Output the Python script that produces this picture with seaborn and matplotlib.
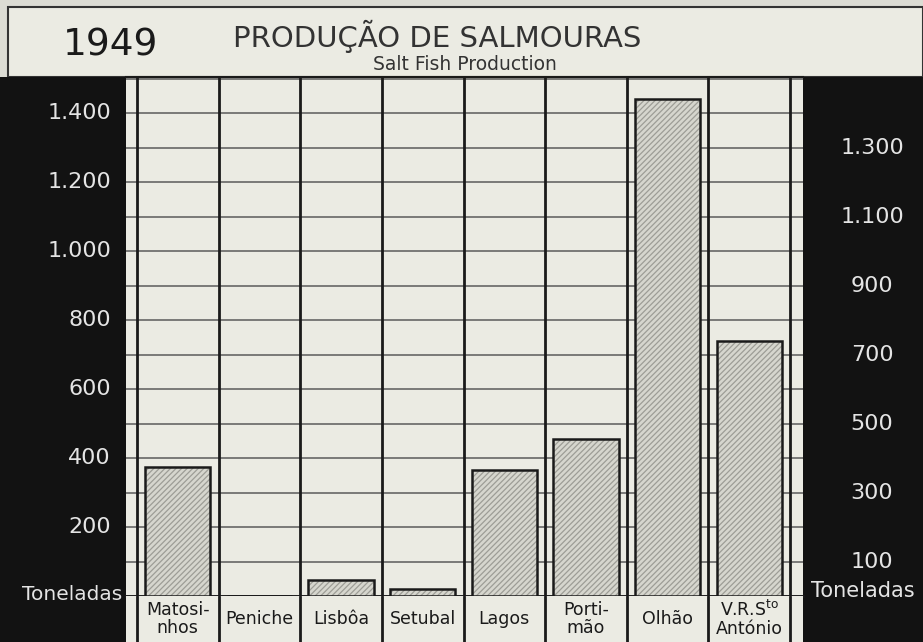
import matplotlib
matplotlib.use("Agg")
import matplotlib.pyplot as plt
import matplotlib.transforms as mtransforms
from matplotlib.patches import Rectangle
import seaborn as sns
import pandas as pd

# ---------------- data ----------------
categories = ["Matosi-\nnhos", "Peniche", "Lisbôa", "Setubal", "Lagos",
              "Porti-\nmão", "Olhão", "V.R.S$^{\\mathrm{to}}$\nAntónio"]
production = [375, 0, 45, 20, 365, 455, 1440, 740]

left_tick_values = [200, 400, 600, 800, 1000, 1200, 1400]
left_tick_labels = ["200", "400", "600", "800", "1.000", "1.200", "1.400"]
right_tick_values = [100, 300, 500, 700, 900, 1100, 1300]
right_tick_labels = ["100", "300", "500", "700", "900", "1.100", "1.300"]
unit_label = "Toneladas"

title_year = "1949"
title_main = "PRODUÇÃO DE SALMOURAS"
title_sub = "Salt Fish Production"

# ---------------- style ----------------
sns.set_theme(style="white")
plt.rcParams["font.family"] = ["DejaVu Sans"]
plt.rcParams["hatch.linewidth"] = 0.9

W, H = 923, 642
CREAM = "#ebebe3"
PANEL = "#121212"
BAR_FILL = "#d6d6ce"
HATCH = "#9d9d96"
INK = "#1a1a1a"
GRID = "#666666"

fig = plt.figure(figsize=(W / 100, H / 100), dpi=100, facecolor="#dcdcd4")


def px(x0, y0, x1, y1):
    return [x0 / W, 1 - y1 / H, (x1 - x0) / W, (y1 - y0) / H]


# background decorations (figure level)
bg = fig.add_axes([0, 0, 1, 1], zorder=-10)
bg.set_xlim(0, W)
bg.set_ylim(H, 0)
bg.axis("off")
bg.add_patch(Rectangle((8, 7), W - 8, 70, facecolor=CREAM, edgecolor="#333333", lw=1.5))
bg.add_patch(Rectangle((0, 77), 126, H - 77, facecolor=PANEL, edgecolor="none"))
bg.add_patch(Rectangle((803, 77), W - 803, H - 77, facecolor=PANEL, edgecolor="none"))

# titles
fig.text(63 / W, 1 - 55 / H, title_year, fontsize=27, color=INK, va="baseline", ha="left")
fig.text(233 / W, 1 - 47 / H, title_main, fontsize=21, color="#333333", va="baseline", ha="left")
fig.text(465 / W, 1 - 70 / H, title_sub, fontsize=13.5, color="#333333", va="baseline", ha="center")

# ---------------- main plot ----------------
col_w = (790 - 137) / 8
xl = -0.5 - (137 - 126) / col_w
xr = 7.5 + (803 - 790) / col_w
ymax = 1505

ax = fig.add_axes(px(126, 77, 803, 596))
ax.set_facecolor(CREAM)
df = pd.DataFrame({"local": categories, "toneladas": production})

sns.barplot(data=df, x="local", y="toneladas", color=BAR_FILL, saturation=1,
            edgecolor=HATCH, linewidth=0, hatch="//////", width=0.8, ax=ax, zorder=3)
sns.barplot(data=df, x="local", y="toneladas", color=INK, fill=False,
            linewidth=1.8, width=0.8, ax=ax, zorder=4)

ax.set_xlim(xl, xr)
ax.set_ylim(0, ymax)
ax.set_yticks(range(0, 1501, 100))
ax.grid(axis="y", color=GRID, lw=1.2, zorder=1)
ax.grid(axis="x", visible=False)
for b in [i - 0.5 for i in range(len(categories) + 1)]:
    ax.axvline(b, color=INK, lw=2.0, zorder=2)
ax.set_xticks([])
ax.set_yticklabels([])
ax.tick_params(length=0)
ax.set_xlabel("")
ax.set_ylabel("")
for s in ["left", "right"]:
    ax.spines[s].set_visible(False)
ax.spines["top"].set_color(INK)
ax.spines["top"].set_linewidth(1.5)
ax.spines["bottom"].set_color(INK)
ax.spines["bottom"].set_linewidth(2.0)

# side tick labels (white on black panels)
trans = mtransforms.blended_transform_factory(ax.transAxes, ax.transData)
ax_w = 803 - 126
for v, lab in zip(left_tick_values, left_tick_labels):
    ax.text((111 - 126) / ax_w, v, lab, transform=trans, ha="right", va="center",
            color="#e4e4e4", fontsize=16, clip_on=False)
for v, lab in zip(right_tick_values, right_tick_labels):
    ax.text((872 - 126) / ax_w, v, lab, transform=trans, ha="center", va="center",
            color="#e4e4e4", fontsize=16, clip_on=False)
ax.text((122 - 126) / ax_w, 5, unit_label, transform=trans, ha="right", va="center",
        color="#e4e4e4", fontsize=14.5, clip_on=False)
ax.text((863 - 126) / ax_w, 15, unit_label, transform=trans, ha="center", va="center",
        color="#e4e4e4", fontsize=15, clip_on=False)

# ---------------- category label row ----------------
lab_ax = fig.add_axes(px(126, 596, 803, H))
lab_ax.set_facecolor(CREAM)
lab_ax.set_xlim(xl, xr)
lab_ax.set_ylim(0, 1)
lab_ax.set_xticks([])
lab_ax.set_yticks([])
for s in lab_ax.spines.values():
    s.set_visible(False)
for b in [i - 0.5 for i in range(len(categories) + 1)]:
    lab_ax.axvline(b, color=INK, lw=2.0)
for i, name in enumerate(categories):
    lab_ax.text(i, 0.5, name, ha="center", va="center", fontsize=12.5,
                color=INK, linespacing=1.0)

fig.savefig("out.png", dpi=100, facecolor=fig.get_facecolor())
